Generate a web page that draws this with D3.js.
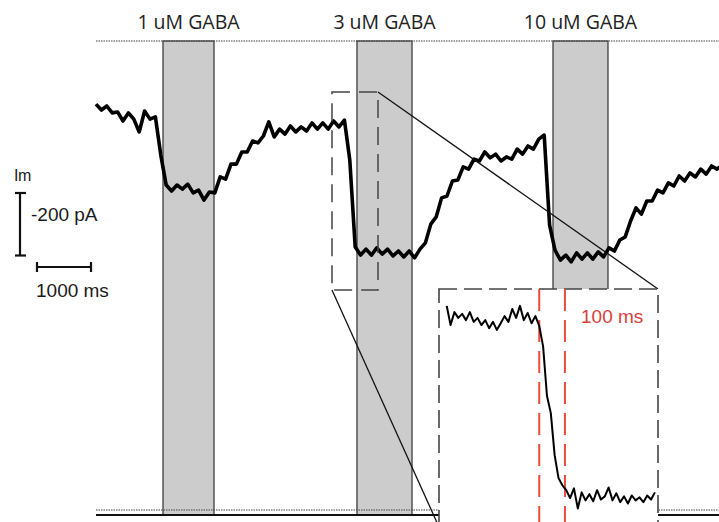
<!DOCTYPE html>
<html>
<head>
<meta charset="utf-8">
<script src="https://cdn.jsdelivr.net/npm/d3@7"></script>
<style>
  html, body { margin: 0; padding: 0; background: #fff; }
  #chart { width: 719px; height: 522px; }
</style>
</head>
<body>
<div id="chart"></div>
<script>
// Aplicaciones de GABA (ms) y etiquetas
const gabaLabels = ["1 uM GABA", "3 uM GABA", "10 uM GABA"];
const gabaStart = [1241, 4833, 8463];
const gabaEnd = [2185, 5852, 9481];

// Registro completo: corriente (pA), una muestra cada 100 ms
const traceStep = 100;
const traceCurrent = [
  -202, -221, -208, -230, -227, -256, -230, -250, -291, -224,
  -250, -243, -365, -461, -480, -461, -474, -458, -486, -477,
  -509, -483, -486, -435, -442, -394, -394, -355, -355, -320,
  -326, -304, -259, -307, -282, -298, -272, -291, -275, -288,
  -262, -282, -262, -282, -256, -275, -253, -381, -659, -685,
  -666, -685, -662, -682, -666, -688, -672, -691, -672, -694,
  -666, -646, -586, -563, -502, -496, -448, -445, -403, -410,
  -378, -384, -355, -374, -362, -384, -371, -378, -346, -362,
  -336, -346, -314, -301, -589, -669, -701, -685, -707, -678,
  -698, -678, -698, -675, -691, -662, -672, -637, -627, -576,
  -534, -554, -512, -512, -477, -486, -454, -464, -432, -448,
  -422, -435, -410, -426, -400, -410, -397
];

// Ventana ampliada (ms, pA) y detalle: una muestra cada 15 ms
const zoomTime = [4370, 5222];
const zoomCurrent = [-163, -797];
const detailStart = 4400;
const detailStep = 15;
const detailCurrent = [
  -254, -297, -268, -281, -272, -286, -268, -290, -281, -297,
  -286, -304, -290, -308, -293, -277, -290, -261, -281, -254,
  -286, -270, -293, -277, -299, -345, -456, -495, -590, -641,
  -657, -668, -686, -664, -709, -673, -691, -677, -693, -668,
  -689, -682, -662, -691, -675, -695, -682, -698, -680, -691,
  -684, -695, -680, -689, -673
];
// Marcas rojas (ms) y su etiqueta
const markerTimes = [4760, 4860];
const markerLabel = "100 ms";

// Barras de escala
const scaleCurrent = -200;
const scaleTime = 1000;

function createTraceChart() {
    const width = 719;
    const height = 522;
    const top = 41;       // línea punteada superior
    const bottom = 515;   // línea sólida inferior

    const svg = d3.select("#chart")
        .append("svg")
        .attr("width", width)
        .attr("height", height)
        .attr("viewBox", [0, 0, width, height]);

    // Escalas del registro principal
    const x = d3.scaleLinear()
        .domain([0, 11537])
        .range([96, 719]);

    const y = d3.scaleLinear()
        .domain([0, -200])
        .range([top, top + 62.5]);

    const trace = traceCurrent.map((v, i) => [i * traceStep, v]);

    // Barras grises de GABA
    svg.append("g")
        .selectAll("rect")
        .data(gabaLabels)
        .join("rect")
        .attr("x", (d, i) => x(gabaStart[i]))
        .attr("y", top)
        .attr("width", (d, i) => x(gabaEnd[i]) - x(gabaStart[i]))
        .attr("height", bottom - top)
        .attr("fill", "#cdcccd")
        .attr("stroke", "#4a4a4a")
        .attr("stroke-width", 1.4);

    svg.append("g")
        .selectAll("text")
        .data(gabaLabels)
        .join("text")
        .attr("x", (d, i) => (x(gabaStart[i]) + x(gabaEnd[i])) / 2)
        .attr("y", 29)
        .attr("text-anchor", "middle")
        .style("font-family", "'Open Sans', sans-serif")
        .style("font-size", "19.5px")
        .style("fill", "#222")
        .text(d => d);

    // Líneas de referencia
    svg.append("line")
        .attr("x1", 96).attr("x2", width)
        .attr("y1", top).attr("y2", top)
        .attr("stroke", "#444")
        .attr("stroke-width", 1.1)
        .attr("stroke-dasharray", "1.5,1");

    svg.append("line")
        .attr("x1", 96).attr("x2", width)
        .attr("y1", 510).attr("y2", 510)
        .attr("stroke", "#444")
        .attr("stroke-width", 1.1)
        .attr("stroke-dasharray", "1.5,1");

    svg.append("line")
        .attr("x1", 96).attr("x2", width)
        .attr("y1", bottom).attr("y2", bottom)
        .attr("stroke", "#111")
        .attr("stroke-width", 2.2);

    // Registro de corriente (trazo grueso para el ruido)
    const line = d3.line()
        .x(d => x(d[0]))
        .y(d => y(d[1]));

    svg.append("path")
        .datum(trace)
        .attr("fill", "none")
        .attr("stroke", "#000")
        .attr("stroke-width", 3.6)
        .attr("stroke-linejoin", "round")
        .attr("d", line);

    // Recuadro de la zona ampliada
    const bx0 = x(zoomTime[0]), bx1 = x(zoomTime[1]);
    const by0 = y(zoomCurrent[0]), by1 = y(zoomCurrent[1]);

    svg.append("rect")
        .attr("x", bx0)
        .attr("y", by0)
        .attr("width", bx1 - bx0)
        .attr("height", by1 - by0)
        .attr("fill", "none")
        .attr("stroke", "#444")
        .attr("stroke-width", 1.5)
        .attr("stroke-dasharray", "18,9");

    // Recuadro del detalle
    const inset = { x0: 439, x1: 658, y0: 289, y1: 527 };

    svg.append("line")
        .attr("x1", bx1).attr("y1", by0)
        .attr("x2", inset.x1).attr("y2", inset.y0)
        .attr("stroke", "#111")
        .attr("stroke-width", 1.3);

    svg.append("line")
        .attr("x1", bx0).attr("y1", by1)
        .attr("x2", inset.x0).attr("y2", inset.y1)
        .attr("stroke", "#111")
        .attr("stroke-width", 1.3);

    const xd = d3.scaleLinear()
        .domain(zoomTime)
        .range([inset.x0, inset.x1]);

    const yd = d3.scaleLinear()
        .domain([-270, -680])
        .range([313, 495.5]);

    const g = svg.append("g");

    g.append("rect")
        .attr("x", inset.x0)
        .attr("y", inset.y0)
        .attr("width", inset.x1 - inset.x0)
        .attr("height", inset.y1 - inset.y0)
        .attr("fill", "#fff")
        .attr("stroke", "#444")
        .attr("stroke-width", 1.6)
        .attr("stroke-dasharray", "18,7");

    g.selectAll(".marker")
        .data(markerTimes)
        .join("line")
        .attr("class", "marker")
        .attr("x1", d => xd(d)).attr("x2", d => xd(d))
        .attr("y1", inset.y0).attr("y2", height)
        .attr("stroke", "#ec4a3c")
        .attr("stroke-width", 2)
        .attr("stroke-dasharray", "22,9");

    g.append("text")
        .attr("x", 581)
        .attr("y", 323)
        .style("font-family", "'Liberation Sans', Arial, sans-serif")
        .style("font-size", "19px")
        .style("fill", "#d8413a")
        .text(markerLabel);

    const detail = detailCurrent.map((v, i) => [detailStart + i * detailStep, v]);

    g.append("path")
        .datum(detail)
        .attr("fill", "none")
        .attr("stroke", "#000")
        .attr("stroke-width", 2)
        .attr("stroke-linejoin", "round")
        .attr("d", d3.line().x(d => xd(d[0])).y(d => yd(d[1])));

    // Barras de escala
    const sy0 = 193;
    const sy1 = sy0 + (y(scaleCurrent) - y(0));
    const scale = svg.append("g")
        .attr("stroke", "#111")
        .attr("stroke-width", 2.2);

    scale.append("line").attr("x1", 20).attr("x2", 20).attr("y1", sy0).attr("y2", sy1);
    scale.append("line").attr("x1", 15).attr("x2", 26).attr("y1", sy0).attr("y2", sy0);
    scale.append("line").attr("x1", 15).attr("x2", 26).attr("y1", sy1).attr("y2", sy1);

    const sx0 = 37;
    const sx1 = sx0 + (x(scaleTime) - x(0));
    scale.append("line").attr("x1", sx0).attr("x2", sx1).attr("y1", 267).attr("y2", 267);
    scale.append("line").attr("x1", sx0).attr("x2", sx0).attr("y1", 262).attr("y2", 272);
    scale.append("line").attr("x1", sx1).attr("x2", sx1).attr("y1", 262).attr("y2", 272);

    const labels = svg.append("g")
        .style("font-family", "'Liberation Sans', Arial, sans-serif")
        .style("fill", "#1a1a1a");

    labels.append("text").attr("x", 14).attr("y", 181)
        .style("font-size", "16px").style("letter-spacing", "-0.5px").text("Im");
    labels.append("text").attr("x", 31).attr("y", 221)
        .style("font-size", "19px").text(`${scaleCurrent} pA`);
    labels.append("text").attr("x", 36).attr("y", 297)
        .style("font-size", "19px").text(`${scaleTime} ms`);
}

document.addEventListener("DOMContentLoaded", createTraceChart);
</script>
</body>
</html>
